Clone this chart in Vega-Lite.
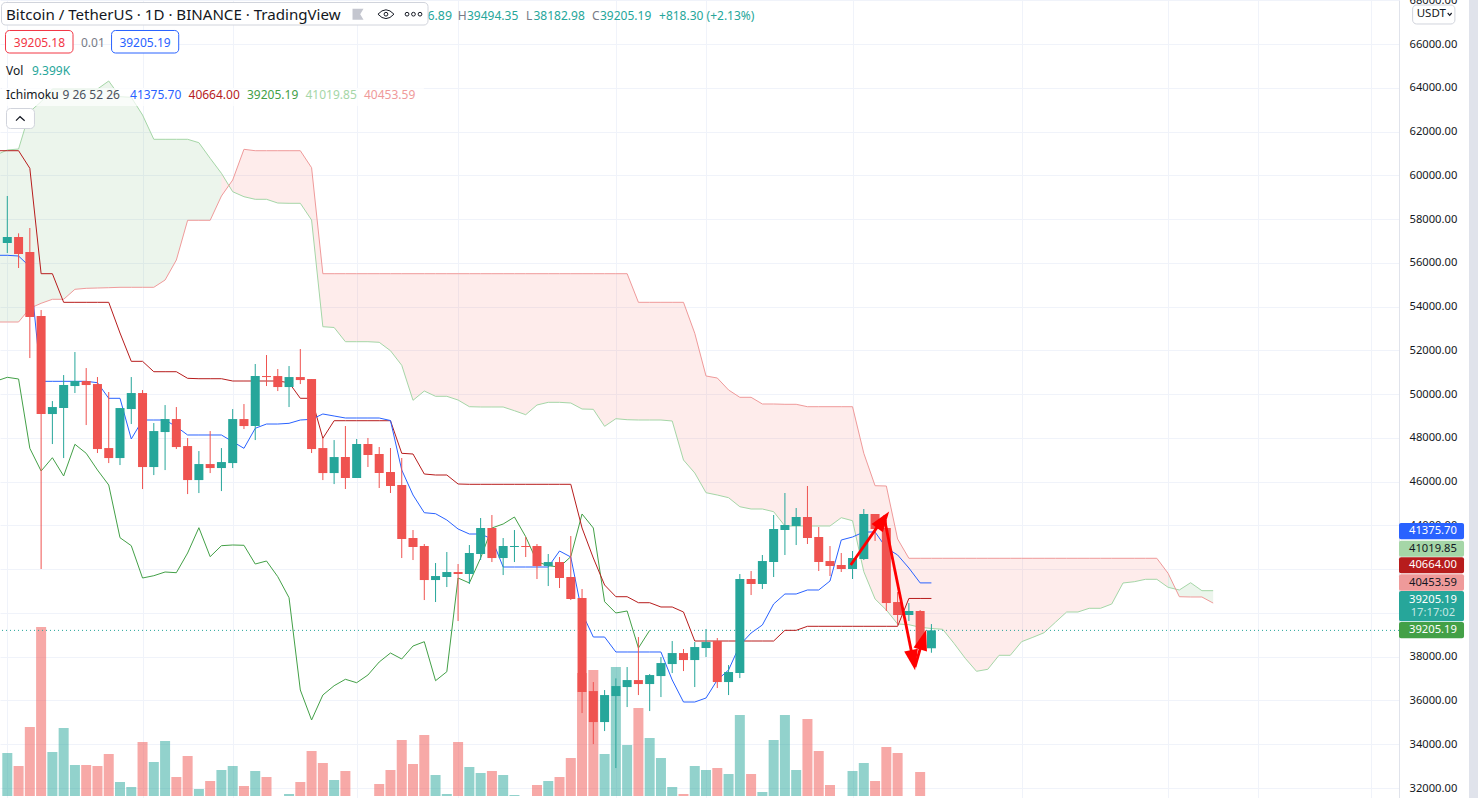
{
"$schema":"https://vega.github.io/schema/vega-lite/v6.json",
"width":1399,"height":798,"autosize":"none","padding":{"left":0,"top":0,"right":79,"bottom":0},
"background":"#ffffff",
"config":{"view":{"stroke":null},"legend":{"disable":true},"text":{"font":"Noto Sans"}},
"datasets":{
"candles":[
{"i":0,"o":56912,"h":59061,"l":56455,"c":57186,"v":96,"d":"up"},
{"i":1,"o":57186,"h":57354,"l":55769,"c":56409,"v":70,"d":"down"},
{"i":2,"o":56500,"h":57598,"l":51654,"c":53529,"v":148,"d":"down"},
{"i":3,"o":53574,"h":53849,"l":42010,"c":49094,"v":348,"d":"down"},
{"i":4,"o":49094,"h":49688,"l":47722,"c":49414,"v":98,"d":"up"},
{"i":5,"o":49368,"h":50877,"l":47082,"c":50420,"v":146,"d":"up"},
{"i":6,"o":50374,"h":51928,"l":50054,"c":50602,"v":72,"d":"up"},
{"i":7,"o":50602,"h":51197,"l":48591,"c":50420,"v":72,"d":"down"},
{"i":8,"o":50465,"h":50785,"l":47311,"c":47494,"v":70,"d":"down"},
{"i":9,"o":47539,"h":50100,"l":46853,"c":47082,"v":94,"d":"down"},
{"i":10,"o":47082,"h":49368,"l":46762,"c":49368,"v":38,"d":"up"},
{"i":11,"o":49322,"h":50785,"l":48637,"c":50054,"v":28,"d":"up"},
{"i":12,"o":50054,"h":50191,"l":45665,"c":46671,"v":118,"d":"down"},
{"i":13,"o":46671,"h":48682,"l":46305,"c":48316,"v":78,"d":"up"},
{"i":14,"o":48271,"h":49505,"l":46533,"c":48865,"v":120,"d":"up"},
{"i":15,"o":48865,"h":49414,"l":47494,"c":47585,"v":48,"d":"down"},
{"i":16,"o":47631,"h":47996,"l":45436,"c":46076,"v":90,"d":"down"},
{"i":17,"o":46076,"h":47402,"l":45482,"c":46808,"v":24,"d":"up"},
{"i":18,"o":46808,"h":48316,"l":46396,"c":46625,"v":40,"d":"down"},
{"i":19,"o":46625,"h":47539,"l":45573,"c":46899,"v":62,"d":"up"},
{"i":20,"o":46853,"h":49322,"l":46625,"c":48865,"v":70,"d":"up"},
{"i":21,"o":48865,"h":49551,"l":48408,"c":48545,"v":30,"d":"down"},
{"i":22,"o":48545,"h":51380,"l":47905,"c":50831,"v":60,"d":"up"},
{"i":23,"o":50831,"h":51791,"l":50374,"c":50785,"v":48,"d":"down"},
{"i":24,"o":50831,"h":51151,"l":50145,"c":50328,"v":9,"d":"down"},
{"i":25,"o":50328,"h":51288,"l":49414,"c":50785,"v":14,"d":"up"},
{"i":26,"o":50785,"h":52066,"l":50465,"c":50648,"v":38,"d":"down"},
{"i":27,"o":50694,"h":50694,"l":47311,"c":47494,"v":100,"d":"down"},
{"i":28,"o":47539,"h":47996,"l":46076,"c":46396,"v":76,"d":"down"},
{"i":29,"o":46396,"h":47905,"l":45893,"c":47128,"v":42,"d":"up"},
{"i":30,"o":47130,"h":48547,"l":45667,"c":46170,"v":60,"d":"down"},
{"i":31,"o":46170,"h":47953,"l":46170,"c":47724,"v":9,"d":"up"},
{"i":32,"o":47724,"h":47999,"l":46673,"c":47221,"v":9,"d":"down"},
{"i":33,"o":47267,"h":47587,"l":45713,"c":46398,"v":34,"d":"down"},
{"i":34,"o":46444,"h":47541,"l":45484,"c":45804,"v":62,"d":"down"},
{"i":35,"o":45850,"h":47084,"l":42512,"c":43381,"v":122,"d":"down"},
{"i":36,"o":43427,"h":43792,"l":42421,"c":43015,"v":74,"d":"down"},
{"i":37,"o":43061,"h":43152,"l":40592,"c":41506,"v":132,"d":"down"},
{"i":38,"o":41506,"h":42284,"l":40501,"c":41689,"v":52,"d":"up"},
{"i":39,"o":41644,"h":42787,"l":41186,"c":41872,"v":14,"d":"up"},
{"i":40,"o":41872,"h":42238,"l":39632,"c":41781,"v":118,"d":"down"},
{"i":41,"o":41781,"h":43107,"l":41324,"c":42741,"v":68,"d":"up"},
{"i":42,"o":42695,"h":44341,"l":42421,"c":43884,"v":56,"d":"up"},
{"i":43,"o":43884,"h":44478,"l":42329,"c":42512,"v":60,"d":"down"},
{"i":44,"o":42512,"h":43427,"l":41735,"c":43061,"v":52,"d":"up"},
{"i":45,"o":43015,"h":43792,"l":42329,"c":43061,"v":12,"d":"up"},
{"i":46,"o":43061,"h":43472,"l":42558,"c":43015,"v":9,"d":"down"},
{"i":47,"o":43061,"h":43152,"l":41552,"c":42146,"v":32,"d":"down"},
{"i":48,"o":42146,"h":42695,"l":41232,"c":42329,"v":40,"d":"up"},
{"i":49,"o":42329,"h":42558,"l":41141,"c":41598,"v":48,"d":"down"},
{"i":50,"o":41644,"h":43518,"l":40592,"c":40638,"v":86,"d":"down"},
{"i":51,"o":40683,"h":41095,"l":35426,"c":36386,"v":256,"d":"down"},
{"i":52,"o":36431,"h":36843,"l":34008,"c":35014,"v":262,"d":"down"},
{"i":53,"o":35014,"h":36477,"l":34603,"c":36249,"v":94,"d":"up"},
{"i":54,"o":36203,"h":37010,"l":32911,"c":36660,"v":268,"d":"up"},
{"i":55,"o":36614,"h":37529,"l":35700,"c":36934,"v":112,"d":"up"},
{"i":56,"o":36934,"h":38900,"l":36249,"c":36752,"v":186,"d":"down"},
{"i":57,"o":36752,"h":37209,"l":35517,"c":37163,"v":126,"d":"up"},
{"i":58,"o":37117,"h":37986,"l":36157,"c":37712,"v":86,"d":"up"},
{"i":59,"o":37666,"h":38718,"l":37254,"c":38169,"v":28,"d":"up"},
{"i":60,"o":38169,"h":38352,"l":37346,"c":37849,"v":14,"d":"down"},
{"i":61,"o":37849,"h":38672,"l":36615,"c":38443,"v":70,"d":"up"},
{"i":62,"o":38398,"h":39267,"l":37986,"c":38672,"v":62,"d":"up"},
{"i":63,"o":38718,"h":38855,"l":36569,"c":36843,"v":66,"d":"down"},
{"i":64,"o":36843,"h":37621,"l":36249,"c":37301,"v":54,"d":"up"},
{"i":65,"o":37255,"h":41781,"l":37026,"c":41553,"v":172,"d":"up"},
{"i":66,"o":41553,"h":41918,"l":40821,"c":41324,"v":54,"d":"down"},
{"i":67,"o":41324,"h":42650,"l":41095,"c":42375,"v":18,"d":"up"},
{"i":68,"o":42330,"h":44479,"l":41644,"c":43839,"v":122,"d":"up"},
{"i":69,"o":43793,"h":45484,"l":42650,"c":44021,"v":172,"d":"up"},
{"i":70,"o":43976,"h":44799,"l":43107,"c":44387,"v":62,"d":"up"},
{"i":71,"o":44387,"h":45804,"l":43153,"c":43427,"v":164,"d":"down"},
{"i":72,"o":43473,"h":43930,"l":41918,"c":42330,"v":100,"d":"down"},
{"i":73,"o":42375,"h":43061,"l":41690,"c":42147,"v":32,"d":"down"},
{"i":74,"o":42193,"h":42741,"l":41873,"c":42010,"v":9,"d":"down"},
{"i":75,"o":42010,"h":42833,"l":41553,"c":42513,"v":60,"d":"up"},
{"i":76,"o":42467,"h":44753,"l":42421,"c":44524,"v":76,"d":"up"},
{"i":77,"o":44524,"h":44524,"l":43290,"c":43839,"v":40,"d":"down"},
{"i":78,"o":43884,"h":44250,"l":40090,"c":40455,"v":108,"d":"down"},
{"i":79,"o":40501,"h":40958,"l":39449,"c":39907,"v":96,"d":"down"},
{"i":80,"o":39907,"h":40455,"l":39632,"c":40090,"v":9,"d":"up"},
{"i":81,"o":40090,"h":40135,"l":38306,"c":38387,"v":58,"d":"down"},
{"i":82,"o":38386.89,"h":39494.35,"l":38182.98,"c":39205.19,"v":9.399,"d":"up"}
],
"ichimoku":[
{"i":-1,"t":56350,"k":61131,"c":50600,"a":60934,"b":53301},
{"i":0,"t":56350,"k":61131,"c":50773,"a":61163,"b":53301},
{"i":1,"t":56318,"k":61131,"c":50696,"a":61209,"b":53301},
{"i":2,"t":55829,"k":60326,"c":47527,"a":62914,"b":53927},
{"i":3,"t":50589,"k":55509,"c":46490,"a":63371,"b":54156},
{"i":4,"t":50590,"k":55509,"c":47098,"a":63951,"b":54339},
{"i":5,"t":50590,"k":54201,"c":46262,"a":63951,"b":54339},
{"i":6,"t":50590,"k":54201,"c":47711,"a":63951,"b":54796},
{"i":7,"t":50590,"k":54201,"c":47299,"a":63951,"b":54841},
{"i":8,"t":50527,"k":54201,"c":46536,"a":63951,"b":54855},
{"i":9,"t":49813,"k":54201,"c":45850,"a":64317,"b":54869},
{"i":10,"t":49813,"k":52798,"c":43441,"a":63600,"b":54887},
{"i":11,"t":47953,"k":51504,"c":43076,"a":63572,"b":54887},
{"i":12,"t":48821,"k":51504,"c":41599,"a":62763,"b":54887},
{"i":13,"t":48821,"k":51029,"c":41704,"a":61652,"b":54887},
{"i":14,"t":48821,"k":51029,"c":41873,"a":61652,"b":55221},
{"i":15,"t":48515,"k":51029,"c":41842,"a":61652,"b":56135},
{"i":16,"t":48136,"k":50727,"c":42742,"a":61652,"b":57950},
{"i":17,"t":48136,"k":50709,"c":43898,"a":61497,"b":57950},
{"i":18,"t":48136,"k":50709,"c":42573,"a":60784,"b":57950},
{"i":19,"t":48136,"k":50709,"c":43076,"a":60098,"b":59060},
{"i":20,"t":47830,"k":50604,"c":43108,"a":59257,"b":59792},
{"i":21,"t":47527,"k":50604,"c":43094,"a":59029,"b":61195},
{"i":22,"t":48442,"k":50604,"c":42239,"a":58910,"b":61131},
{"i":23,"t":48638,"k":50604,"c":42376,"a":58910,"b":61131},
{"i":24,"t":48638,"k":50604,"c":41659,"a":58740,"b":61131},
{"i":25,"t":48670,"k":50527,"c":40699,"a":58727,"b":61131},
{"i":26,"t":48821,"k":49813,"c":36480,"a":58727,"b":61131},
{"i":27,"t":48853,"k":49813,"c":35108,"a":57963,"b":60354},
{"i":28,"t":49096,"k":47985,"c":36251,"a":53086,"b":55509},
{"i":29,"t":49004,"k":48789,"c":36676,"a":53050,"b":55509},
{"i":30,"t":48913,"k":48789,"c":36969,"a":52401,"b":55509},
{"i":31,"t":48913,"k":48789,"c":36813,"a":52401,"b":55509},
{"i":32,"t":48913,"k":48789,"c":37165,"a":52401,"b":55509},
{"i":33,"t":48913,"k":48789,"c":37759,"a":52373,"b":55509},
{"i":34,"t":48798,"k":48789,"c":38171,"a":51989,"b":55509},
{"i":35,"t":46536,"k":47299,"c":37897,"a":51322,"b":55509},
{"i":36,"t":45393,"k":47267,"c":38491,"a":49722,"b":55509},
{"i":37,"t":44584,"k":46353,"c":38687,"a":50147,"b":55509},
{"i":38,"t":44538,"k":46307,"c":36905,"a":49905,"b":55509},
{"i":39,"t":44250,"k":46307,"c":37316,"a":49905,"b":55509},
{"i":40,"t":43839,"k":45896,"c":41599,"a":49735,"b":55509},
{"i":41,"t":43610,"k":45882,"c":41371,"a":49430,"b":55509},
{"i":42,"t":43610,"k":45882,"c":42513,"a":49416,"b":55509},
{"i":43,"t":43382,"k":45882,"c":43885,"a":49416,"b":55509},
{"i":44,"t":42102,"k":45882,"c":44067,"a":49416,"b":55509},
{"i":45,"t":42102,"k":45882,"c":44387,"a":49246,"b":55509},
{"i":46,"t":42102,"k":45882,"c":43487,"a":49064,"b":55509},
{"i":47,"t":42102,"k":45882,"c":42344,"a":49507,"b":55509},
{"i":48,"t":42102,"k":45882,"c":42161,"a":49630,"b":55509},
{"i":49,"t":42833,"k":45882,"c":42102,"a":49630,"b":55509},
{"i":50,"t":42559,"k":45882,"c":42573,"a":49598,"b":55509},
{"i":51,"t":39999,"k":43885,"c":44525,"a":49324,"b":55509},
{"i":52,"t":38902,"k":42513,"c":43885,"a":49310,"b":55509},
{"i":53,"t":38902,"k":41279,"c":40516,"a":48533,"b":55509},
{"i":54,"t":38217,"k":40744,"c":40000,"a":48881,"b":55509},
{"i":55,"t":38217,"k":40744,"c":40091,"a":48835,"b":55509},
{"i":56,"t":38217,"k":40470,"c":38399,"a":48821,"b":54201},
{"i":57,"t":38217,"k":40470,"c":39205.19,"a":48821,"b":54201},
{"i":58,"t":38217,"k":40274,"a":48821,"b":54201},
{"i":59,"t":36937,"k":40274,"a":48776,"b":54201},
{"i":60,"t":35931,"k":40045,"a":46993,"b":54201},
{"i":61,"t":35931,"k":38719,"a":46399,"b":52785},
{"i":62,"t":36114,"k":38719,"a":45498,"b":50833},
{"i":63,"t":36937,"k":38719,"a":45393,"b":50741},
{"i":64,"t":37394,"k":38719,"a":45270,"b":50193},
{"i":65,"t":38537,"k":38719,"a":44858,"b":49859},
{"i":66,"t":39085,"k":38719,"a":44753,"b":49859},
{"i":67,"t":39451,"k":38719,"a":44753,"b":49553},
{"i":68,"t":40411,"k":38719,"a":44630,"b":49553},
{"i":69,"t":40868,"k":39208,"a":43976,"b":49539},
{"i":70,"t":40868,"k":39208,"a":43976,"b":49539},
{"i":71,"t":41051,"k":39391,"a":43976,"b":49430},
{"i":72,"t":41051,"k":39391,"a":43976,"b":49430},
{"i":73,"t":41462,"k":39391,"a":43976,"b":49430},
{"i":74,"t":43336,"k":39391,"a":44356,"b":49430},
{"i":75,"t":43473,"k":39391,"a":44218,"b":49430},
{"i":76,"t":43702,"k":39391,"a":41887,"b":47299},
{"i":77,"t":43702,"k":39391,"a":40639,"b":45818},
{"i":78,"t":42970,"k":39391,"a":40136,"b":45804},
{"i":79,"t":42651,"k":39391,"a":39496,"b":43382},
{"i":80,"t":42056,"k":40664,"a":39465,"b":42500},
{"i":81,"t":41375.7,"k":40664,"a":39346,"b":42500},
{"i":82,"t":41375.7,"k":40664,"a":39291,"b":42500},
{"i":83,"a":39254,"b":42500},
{"i":84,"a":38614,"b":42500},
{"i":85,"a":37929,"b":42500},
{"i":86,"a":37334,"b":42500},
{"i":87,"a":37426,"b":42500},
{"i":88,"a":38066,"b":42500},
{"i":89,"a":38066,"b":42500},
{"i":90,"a":38687,"b":42500},
{"i":91,"a":38888,"b":42500},
{"i":92,"a":39099,"b":42500},
{"i":93,"a":39574,"b":42500},
{"i":94,"a":40045,"b":42500},
{"i":95,"a":40045,"b":42500},
{"i":96,"a":40214,"b":42500},
{"i":97,"a":40214,"b":42500},
{"i":98,"a":40411,"b":42500},
{"i":99,"a":41371,"b":42500},
{"i":100,"a":41430,"b":42500},
{"i":101,"a":41540,"b":42500},
{"i":102,"a":41540,"b":42500},
{"i":103,"a":41174,"b":41814},
{"i":104,"a":41051,"b":40744},
{"i":105,"a":41384,"b":40731},
{"i":106,"a":41019.85,"b":40731},
{"i":107,"a":41019.85,"b":40453.59}
],
"arrows":[
{"n":1,"k":0,"i":74.84,"p":42194},{"n":1,"k":1,"i":77.9,"p":44450},
{"n":2,"k":0,"i":77.79,"p":44400},{"n":2,"k":1,"i":80.4,"p":37800},
{"n":3,"k":0,"i":80.54,"p":37531},{"n":3,"k":1,"i":81.3,"p":38900}
],
"heads":[
{"i":77.72,"p":44260,"rot":35.7,"w":420},
{"i":80.37,"p":37842,"rot":168.6,"w":420},
{"i":81.27,"p":38784,"rot":16.6,"w":420}
],
"boxes":[
{"name":"title","i1":-0.515,"i2":37.33,"p1":67905,"p2":66877,"edge":"muted"},
{"name":"bid","i1":-0.16,"i2":5.83,"p1":66626,"p2":65597,"edge":"bid"},
{"name":"ask","i1":9.25,"i2":15.21,"p1":66626,"p2":65597,"edge":"ask"},
{"name":"collapse","i1":-0.07,"i2":2.41,"p1":63060,"p2":62146,"edge":"muted"},
{"name":"usdt","i1":124.7,"i2":128.45,"p1":67791,"p2":66923,"edge":"muted"}
],
"pills":[
{"i1":123.49,"i2":129.26,"p1":44113,"p2":43369,"tone":"blue"},
{"i1":123.49,"i2":129.26,"p1":43305,"p2":42573,"tone":"lgreen"},
{"i1":123.49,"i2":129.26,"p1":42546,"p2":41814,"tone":"dred"},
{"i1":123.49,"i2":129.26,"p1":41769,"p2":41019,"tone":"lred"},
{"i1":123.49,"i2":129.26,"p1":41005,"p2":39620,"tone":"teal"},
{"i1":123.49,"i2":129.26,"p1":39588,"p2":38843,"tone":"green"}
],
"labels":[
{"s":"H","i":39.96,"p":67302,"tone":"gray"},
{"s":"39494.35","i":40.79,"p":67302,"tone":"teal"},
{"s":"L","i":46.02,"p":67302,"tone":"gray"},
{"s":"38182.98","i":46.69,"p":67302,"tone":"teal"},
{"s":"C","i":51.88,"p":67302,"tone":"gray"},
{"s":"39205.19","i":52.59,"p":67302,"tone":"teal"},
{"s":"+818.30 (+2.13%)","i":57.83,"p":67302,"tone":"teal"},
{"s":"0.01","i":6.54,"p":66077,"tone":"gray"},
{"s":"Vol","i":-0.115,"p":64797,"tone":"ink"},
{"s":"9.399K","i":2.19,"p":64797,"tone":"teal"},
{"s":"Ichimoku","i":-0.115,"p":63700,"tone":"ink"},
{"s":"9 26 52 26","i":4.9,"p":63700,"tone":"slate"},
{"s":"41375.70","i":10.89,"p":63700,"tone":"blue"},
{"s":"40664.00","i":16.08,"p":63700,"tone":"dred"},
{"s":"39205.19","i":21.27,"p":63700,"tone":"green"},
{"s":"41019.85","i":26.46,"p":63700,"tone":"lgreen"},
{"s":"40453.59","i":31.65,"p":63700,"tone":"lred"}
],
"centered":[
{"s":"39205.18","i":2.85,"p":66077,"tone":"bid"},
{"s":"39205.19","i":12.22,"p":66077,"tone":"blue"}
],
"priceTags":[
{"s":"41375.70","i":126.5,"p":43747,"tone":"white"},
{"s":"41019.85","i":126.5,"p":42939,"tone":"black"},
{"s":"40664.00","i":126.5,"p":42180,"tone":"white"},
{"s":"40453.59","i":126.5,"p":41393,"tone":"black"},
{"s":"39205.19","i":126.5,"p":40616,"tone":"white"},
{"s":"17:17:02","i":126.5,"p":39999,"tone":"fade"},
{"s":"39205.19","i":126.5,"p":39209,"tone":"white"}
]
},
"layer":[
{"layer":[
 {"data":{"name":"candles"},"transform":[{"filter":"datum.v>10"}],
  "mark":{"type":"bar","size":10,"orient":"vertical","opacity":0.5,"clip":true},
  "encoding":{
   "x":{"field":"i","type":"quantitative","title":null,"scale":{"domain":[-0.648,123.49],"nice":false,"zero":false,"padding":0},
        "axis":{"values":[0,12,20,31,40,54,62,75,90,103,111,121],"labels":false,"ticks":false,"domain":false,"title":null,"grid":true,"gridColor":"#f0f3fa","gridWidth":1}},
   "y":{"field":"v","type":"quantitative","title":null,"axis":null,"scale":{"domain":[6,1602],"nice":false,"zero":false}},
   "y2":{"datum":10},
   "color":{"field":"d","type":"nominal","scale":{"domain":["up","down"],"range":["#26a69a","#ef5350"]}}
  }}
]},
{"layer":[
 {"data":{"name":"ichimoku"},"transform":[{"filter":"datum.i<=19"}],
  "mark":{"type":"area","color":"#43a047","opacity":0.1,"clip":true},
  "encoding":{"x":{"field":"i","type":"quantitative","title":null},
   "y":{"field":"a","type":"quantitative","title":null,"scale":{"domain":[31543,68020],"nice":false,"zero":false},
        "axis":{"orient":"right","title":null,"values":[32000,34000,36000,38000,40000,42000,44000,46000,48000,50000,52000,54000,56000,58000,60000,62000,64000,66000,68000],"format":".2f","ticks":false,"labelPadding":10,"labelFont":"Noto Sans","labelFontSize":11.2,"labelColor":"#131722","domainColor":"#e0e3eb","domainWidth":1,"grid":true,"gridColor":"#f0f3fa","gridWidth":1,"labelOverlap":false,"labelFlush":false,"labelBound":false}},
   "y2":{"field":"b"}}},
 {"data":{"name":"ichimoku"},"transform":[{"filter":"datum.i>=19 && datum.i<=103"}],
  "mark":{"type":"area","color":"#f44336","opacity":0.1,"clip":true},
  "encoding":{"x":{"field":"i","type":"quantitative","title":null},"y":{"field":"a","type":"quantitative","title":null},"y2":{"field":"b"}}},
 {"data":{"name":"ichimoku"},"transform":[{"filter":"datum.i>=103"}],
  "mark":{"type":"area","color":"#43a047","opacity":0.1,"clip":true},
  "encoding":{"x":{"field":"i","type":"quantitative","title":null},"y":{"field":"a","type":"quantitative","title":null},"y2":{"field":"b"}}},
 {"data":{"name":"ichimoku"},
  "mark":{"type":"line","color":"#a5d6a7","strokeWidth":1,"clip":true},
  "encoding":{"x":{"field":"i","type":"quantitative","title":null},"y":{"field":"a","type":"quantitative","title":null}}},
 {"data":{"name":"ichimoku"},
  "mark":{"type":"line","color":"#ef9a9a","strokeWidth":1,"clip":true},
  "encoding":{"x":{"field":"i","type":"quantitative","title":null},"y":{"field":"b","type":"quantitative","title":null}}},
 {"data":{"values":[{"price":39205.19}]},
  "mark":{"type":"rule","color":"#26a69a","strokeWidth":1,"strokeDash":[1,3]},
  "encoding":{"y":{"field":"price","type":"quantitative","title":null}}},
 {"data":{"name":"ichimoku"},"transform":[{"filter":"isValid(datum.c)"}],
  "mark":{"type":"line","color":"#43a047","strokeWidth":1,"clip":true},
  "encoding":{"x":{"field":"i","type":"quantitative","title":null},"y":{"field":"c","type":"quantitative","title":null}}},
 {"data":{"name":"ichimoku"},"transform":[{"filter":"isValid(datum.k)"}],
  "mark":{"type":"line","color":"#b71c1c","strokeWidth":1,"clip":true},
  "encoding":{"x":{"field":"i","type":"quantitative","title":null},"y":{"field":"k","type":"quantitative","title":null}}},
 {"data":{"name":"ichimoku"},"transform":[{"filter":"isValid(datum.t)"}],
  "mark":{"type":"line","color":"#2962ff","strokeWidth":1,"clip":true},
  "encoding":{"x":{"field":"i","type":"quantitative","title":null},"y":{"field":"t","type":"quantitative","title":null}}},
 {"data":{"name":"candles"},
  "mark":{"type":"rule","strokeWidth":1},
  "encoding":{"x":{"field":"i","type":"quantitative","title":null},"y":{"field":"l","type":"quantitative","title":null},"y2":{"field":"h"},
   "color":{"field":"d","type":"nominal"}}},
 {"data":{"name":"candles"},
  "mark":{"type":"bar","size":9,"orient":"vertical"},
  "encoding":{"x":{"field":"i","type":"quantitative","title":null},"y":{"field":"o","type":"quantitative","title":null},"y2":{"field":"c"},
   "color":{"field":"d","type":"nominal"}}},
 {"data":{"name":"arrows"},
  "mark":{"type":"line","color":"#ff0000","strokeWidth":2.8},
  "encoding":{"x":{"field":"i","type":"quantitative","title":null},"y":{"field":"p","type":"quantitative","title":null},"detail":{"field":"n"},"order":{"field":"k"}}},
 {"data":{"name":"heads"},
  "mark":{"type":"point","filled":true,"opacity":1,"color":"#ff0000","shape":"M0,-1 L-0.68,1 L0.68,1 Z"},
  "encoding":{"x":{"field":"i","type":"quantitative","title":null},"y":{"field":"p","type":"quantitative","title":null},
   "size":{"field":"w","type":"quantitative","scale":null},"angle":{"field":"rot","type":"quantitative","scale":null}}},
 {"data":{"values":[{"s":"O38386.89","i":39.46,"p":67302}]},
  "mark":{"type":"text","align":"right","baseline":"middle","fontSize":12.4,"font":"Noto Sans","color":"#26a69a"},
  "encoding":{"x":{"field":"i","type":"quantitative","title":null},"y":{"field":"p","type":"quantitative","title":null},"text":{"field":"s"}}},
 {"data":{"values":[{"i1":-0.47,"i2":36.97,"p1":63998,"p2":63175}]},
  "mark":{"type":"rect","color":"#ffffff","opacity":0.7},
  "encoding":{"x":{"field":"i1","type":"quantitative","title":null},"x2":{"field":"i2"},"y":{"field":"p1","type":"quantitative","title":null},"y2":{"field":"p2"}}},
 {"data":{"name":"boxes"},
  "mark":{"type":"rect","fill":"#ffffff","cornerRadius":4,"strokeWidth":1},
  "encoding":{"x":{"field":"i1","type":"quantitative","title":null},"x2":{"field":"i2"},"y":{"field":"p1","type":"quantitative","title":null},"y2":{"field":"p2"},
   "stroke":{"field":"edge","type":"nominal","scale":{"domain":["muted","bid","ask"],"range":["#d1d4dc","#f23645","#2962ff"]}}}},
 {"data":{"values":[{"i1":129.7,"i2":131,"p1":68020,"p2":31543}]},
  "mark":{"type":"rect","color":"#e0e3eb"},
  "encoding":{"x":{"field":"i1","type":"quantitative","title":null},"x2":{"field":"i2"},"y":{"field":"p1","type":"quantitative","title":null},"y2":{"field":"p2"}}},
 {"data":{"name":"pills"},
  "mark":{"type":"rect","cornerRadius":2},
  "encoding":{"x":{"field":"i1","type":"quantitative","title":null},"x2":{"field":"i2"},"y":{"field":"p1","type":"quantitative","title":null},"y2":{"field":"p2"},
   "fill":{"field":"tone","type":"nominal","scale":{"domain":["ink","gray","slate","teal","blue","dred","green","lgreen","lred","bid","white","black","fade"],"range":["#131722","#787b86","#4c525e","#26a69a","#2962ff","#b71c1c","#43a047","#a5d6a7","#ef9a9a","#f23645","#ffffff","#131722","#c4e6e3"]}}}},
 {"data":{"values":[{"s":"Bitcoin / TetherUS · 1D · BINANCE · TradingView","i":-0.115,"p":67357}]},
  "mark":{"type":"text","align":"left","baseline":"middle","fontSize":15.1,"font":"Noto Sans","color":"#131722"},
  "encoding":{"x":{"field":"i","type":"quantitative","title":null},"y":{"field":"p","type":"quantitative","title":null},"text":{"field":"s"}}},
 {"data":{"name":"labels"},
  "mark":{"type":"text","align":"left","baseline":"middle","fontSize":12,"font":"Noto Sans"},
  "encoding":{"x":{"field":"i","type":"quantitative","title":null},"y":{"field":"p","type":"quantitative","title":null},"text":{"field":"s"},"fill":{"field":"tone","type":"nominal"}}},
 {"data":{"name":"centered"},
  "mark":{"type":"text","align":"center","baseline":"middle","fontSize":12,"font":"Noto Sans"},
  "encoding":{"x":{"field":"i","type":"quantitative","title":null},"y":{"field":"p","type":"quantitative","title":null},"text":{"field":"s"},"fill":{"field":"tone","type":"nominal"}}},
 {"data":{"name":"priceTags"},
  "mark":{"type":"text","align":"center","baseline":"middle","fontSize":11.2,"font":"Noto Sans"},
  "encoding":{"x":{"field":"i","type":"quantitative","title":null},"y":{"field":"p","type":"quantitative","title":null},"text":{"field":"s"},"fill":{"field":"tone","type":"nominal"}}},
 {"data":{"values":[{"s":"USDT","i":125.06,"p":67380}]},
  "mark":{"type":"text","align":"left","baseline":"middle","fontSize":11.5,"font":"Noto Sans","color":"#131722"},
  "encoding":{"x":{"field":"i","type":"quantitative","title":null},"y":{"field":"p","type":"quantitative","title":null},"text":{"field":"s"}}},
 {"data":{"values":[{"n":1,"k":0,"i":0.77,"p":62503},{"n":1,"k":1,"i":1.13,"p":62686},{"n":1,"k":2,"i":1.54,"p":62503},{"n":2,"k":0,"i":127.81,"p":67426},{"n":2,"k":1,"i":127.99,"p":67321},{"n":2,"k":2,"i":128.16,"p":67426}]},
  "mark":{"type":"line","color":"#131722","strokeWidth":1.2},
  "encoding":{"x":{"field":"i","type":"quantitative","title":null},"y":{"field":"p","type":"quantitative","title":null},"detail":{"field":"n"},"order":{"field":"k"}}},
 {"data":{"values":[{"i":31.12,"p":67371}]},
  "mark":{"type":"point","filled":true,"opacity":1,"color":"#c4c6cf","size":121,"shape":"M-1,-1 L1,-1 L0.4,0 L1,1 L-1,1 Z"},
  "encoding":{"x":{"field":"i","type":"quantitative","title":null},"y":{"field":"p","type":"quantitative","title":null}}},
 {"data":{"values":[{"i":33.6,"p":67371}]},
  "mark":{"type":"point","filled":false,"opacity":1,"color":"#131722","strokeWidth":1,"size":256,"shape":"M-1,0 Q0,-1.1 1,0 Q0,1.1 -1,0 Z"},
  "encoding":{"x":{"field":"i","type":"quantitative","title":null},"y":{"field":"p","type":"quantitative","title":null}}},
 {"data":{"values":[{"i":33.6,"p":67371},{"i":35.47,"p":67371},{"i":36.04,"p":67371},{"i":36.62,"p":67371}]},
  "mark":{"type":"point","filled":false,"opacity":1,"color":"#131722","strokeWidth":1,"size":14,"shape":"circle"},
  "encoding":{"x":{"field":"i","type":"quantitative","title":null},"y":{"field":"p","type":"quantitative","title":null}}}
]}
],
"resolve":{"scale":{"y":"independent"}}
}
